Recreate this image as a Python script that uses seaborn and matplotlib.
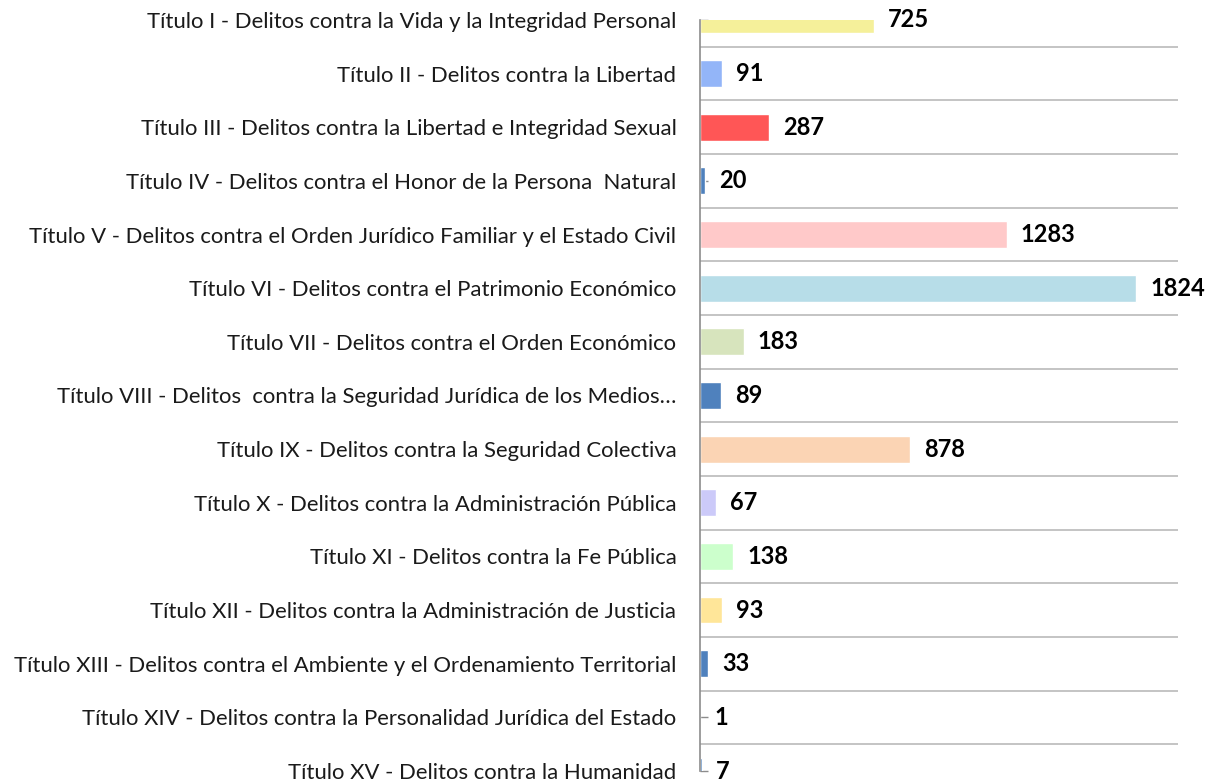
import matplotlib
matplotlib.use("Agg")
import matplotlib.pyplot as plt
import seaborn as sns
import pandas as pd

# datos
titulos = [
    "Título I - Delitos contra la Vida y la Integridad Personal",
    "Título II - Delitos contra la Libertad",
    "Título III - Delitos contra la Libertad e Integridad Sexual",
    "Título IV - Delitos contra el Honor de la Persona  Natural",
    "Título V - Delitos contra el Orden Jurídico Familiar y el Estado Civil",
    "Título VI - Delitos contra el Patrimonio Económico",
    "Título VII - Delitos contra el Orden Económico",
    "Título VIII - Delitos  contra la Seguridad Jurídica de los Medios…",
    "Título IX - Delitos contra la Seguridad Colectiva",
    "Título X - Delitos contra la Administración Pública",
    "Título XI - Delitos contra la Fe Pública",
    "Título XII - Delitos contra la Administración de Justicia",
    "Título XIII - Delitos contra el Ambiente y el Ordenamiento Territorial",
    "Título XIV - Delitos contra la Personalidad Jurídica del Estado",
    "Título XV - Delitos contra la Humanidad",
]
casos = [725, 91, 287, 20, 1283, 1824, 183, 89, 878, 67, 138, 93, 33, 1, 7]
colores = [
    "#F5F09A", "#93B5F8", "#FF5656", "#4F81BD", "#FFC9C9",
    "#B7DDE8", "#D7E4BD", "#4F81BD", "#FBD4B4", "#CCCAF9",
    "#CCFFCC", "#FFE699", "#4F81BD", "#4F81BD", "#4F81BD",
]

sns.set_theme(style="white")
plt.rcParams['font.family'] = ['Lato', 'DejaVu Sans']

df = pd.DataFrame({'titulo': titulos, 'casos': casos})

fig = plt.figure(figsize=(12.05, 7.83), dpi=100)
ax = fig.add_axes([0.581, 0.0153, 0.397, 0.9592])

sns.barplot(data=df, y='titulo', x='casos', hue='titulo', palette=colores,
            legend=False, width=0.5, saturation=1, orient='h', ax=ax)

ax.set_xlim(0, 2000)
ax.set_ylim(len(titulos) - 1, 0)

# lineas entre categorias
ax.set_yticks([i + 0.5 for i in range(len(titulos) - 1)], minor=True)
ax.grid(True, which='minor', axis='y', color='#C4C4C4', linewidth=1.4)
ax.grid(False, which='major')
ax.set_axisbelow(True)

for s in ['top', 'right', 'bottom']:
    ax.spines[s].set_visible(False)
ax.spines['left'].set_color('#8C8C8C')
ax.spines['left'].set_linewidth(1.2)

ax.set_xticks([])
ax.tick_params(axis='y', which='major', left=True, direction='in', length=6,
               width=1, color='#8C8C8C', pad=17, labelsize=15.9,
               labelcolor='#1a1a1a')
ax.tick_params(axis='y', which='minor', left=False, length=0)
ax.set_xlabel('')
ax.set_ylabel('')

for cont in ax.containers:
    ax.bar_label(cont, fmt='%d', padding=10, fontsize=17, fontweight='bold',
                 color='black', annotation_clip=False)

plt.savefig('out.png', dpi=100)
